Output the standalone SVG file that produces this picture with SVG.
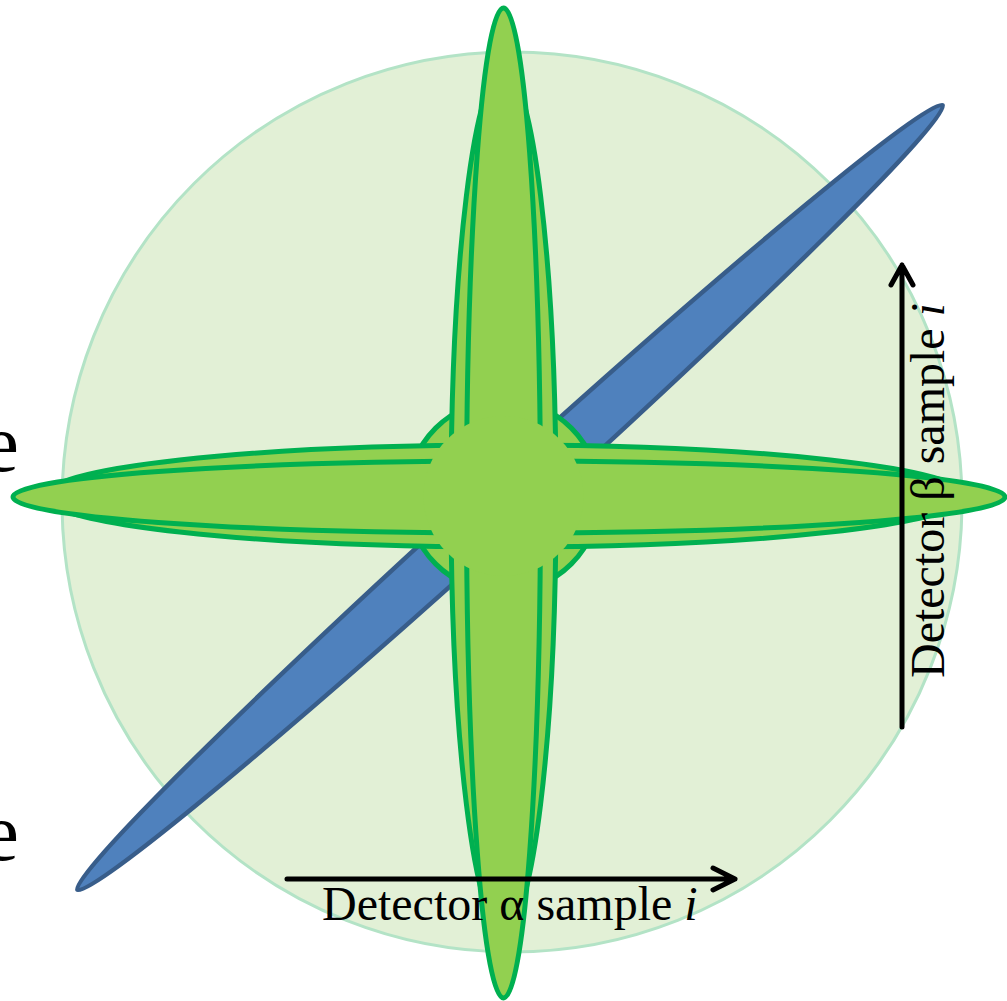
<svg xmlns="http://www.w3.org/2000/svg" width="1007" height="1001" viewBox="0 0 1007 1001">
<style>
.g{fill:#92d050;stroke:#00b050;stroke-width:5}
.lbl{font-family:"Liberation Serif","Times New Roman",serif;font-size:48px;fill:#000}
.big{font-family:"Liberation Serif","Times New Roman",serif;font-size:82px;fill:#000}
.arr{stroke:#000;stroke-width:5;fill:none;stroke-linecap:round;stroke-linejoin:round}
</style>
<rect width="1007" height="1001" fill="#ffffff"/>
<g id="text-left">
<text class="big" x="19" y="471" text-anchor="end">e</text>
<text class="big" x="19" y="860" text-anchor="end">e</text>
</g>
<g id="region">
<circle cx="512" cy="502" r="450" fill="#e2f0d6" stroke="#b3e3c6" stroke-width="3"/>
</g>
<g id="blue-ellipse">
<ellipse cx="510" cy="497.5" rx="584" ry="26" transform="rotate(-42.2 510 497.5)" fill="#4f81bd" stroke="#385d8a" stroke-width="4.5"/>
</g>
<g id="green-cross">
<circle cx="503.5" cy="496" r="96" class="g"/>
<ellipse cx="503.5" cy="500" rx="52.5" ry="430" class="g"/>
<ellipse cx="503.5" cy="503" rx="37" ry="495" class="g"/>
<ellipse cx="505" cy="496" rx="460" ry="51" class="g"/>
<ellipse cx="509" cy="497" rx="496" ry="36" class="g"/>
<circle cx="503.5" cy="496" r="80" fill="#92d050"/>
</g>
<g id="connectors">
<path class="arr" d="M287 879 H735 M713 868 L735 879 L713 890"/>
<path class="arr" d="M902 727 V265 M891 285 L902 265 L913 285"/>
</g>
<g id="labels">
<text class="lbl" x="322" y="920">Detector α sample <tspan font-style="italic">i</tspan></text>
<text class="lbl" transform="translate(944 678) rotate(-90)">Detector β sample <tspan font-style="italic">i</tspan></text>
</g>
</svg>
